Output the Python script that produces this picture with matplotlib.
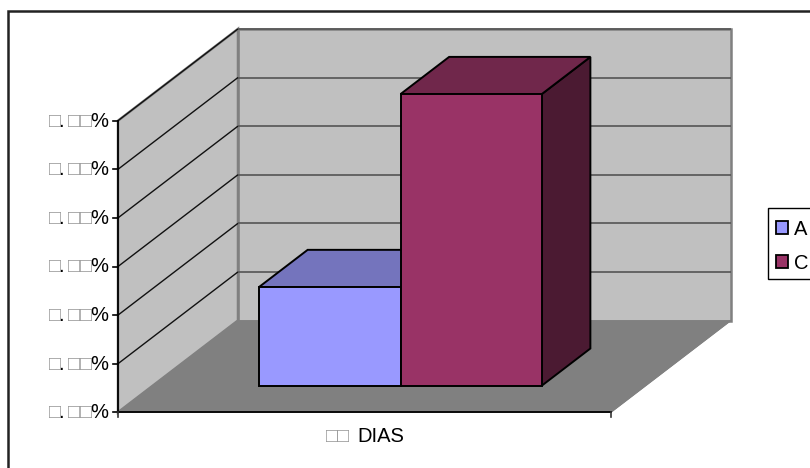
import matplotlib
matplotlib.use("Agg")
import matplotlib.pyplot as plt
from matplotlib.patches import Polygon, Patch, Rectangle

# Data
series_names = ["A", "C"]
series_values = [2.03, 6.0]      # in axis-interval units (tick labels are unreadable boxes)
series_colors = ["#9999FF", "#993366"]
top_colors = ["#7474BD", "#70274B"]
side_colors = ["#4B1A32", "#4B1A32"]
tick_values = [0, 1, 2, 3, 4, 5, 6]
category = "DIAS"

BOX = "\u25A1"
FONT = ["Liberation Sans", "DejaVu Sans"]
plt.rcParams["font.family"] = FONT

fig = plt.figure(figsize=(8.1, 4.68), dpi=100)
ax = fig.add_axes([0, 0, 1, 1])
ax.set_xlim(0, 810)
ax.set_ylim(468, 0)
ax.axis("off")

# Oblique projection of the 3-D chart box
X0, XW = 118.0, 493.0
Y0, UNIT = 412.3, 48.6
DX, DY = 120.0, -91.8


def P(x, v, d):
    """x: 0-1 along category axis, v: value, d: 0-1 depth."""
    return (X0 + x * XW + d * DX, Y0 - v * UNIT + d * DY)


vmax = tick_values[-1]
# walls and floor
ax.add_patch(Polygon([P(0, 0, 1), P(1, 0, 1), P(1, vmax, 1), P(0, vmax, 1)],
                     fc="#C0C0C0", ec="#808080", lw=1.8, zorder=1))
ax.add_patch(Polygon([P(0, 0, 0), P(0, 0, 1), P(0, vmax, 1), P(0, vmax, 0)],
                     fc="#C0C0C0", ec="#808080", lw=1.8, zorder=1))
ax.add_patch(Polygon([P(0, 0, 0), P(1, 0, 0), P(1, 0, 1), P(0, 0, 1)],
                     fc="#808080", ec="#808080", lw=0.5, zorder=2))

# gridlines
for t in tick_values[1:]:
    pts = [P(0, t, 0), P(0, t, 1)]
    ax.plot(*zip(*pts), color="#111111", lw=1.0, zorder=3, solid_capstyle="butt")
    pts = [P(0, t, 1), P(1, t, 1)]
    ax.plot(*zip(*pts), color="#555555", lw=1.2, zorder=3, solid_capstyle="butt")

# axes lines and ticks
ax.plot(*zip(P(0, 0, 0), P(0, vmax, 0)), color="black", lw=1.3, zorder=4)
ax.plot(*zip(P(0, 0, 0), P(1, 0, 0)), color="black", lw=1.3, zorder=4)
for t in tick_values:
    x, y = P(0, t, 0)
    ax.plot([x - 5, x], [y, y], color="black", lw=1.2, zorder=4)
for xv in (0, 1):
    x, y = P(xv, 0, 0)
    ax.plot([x, x], [y, y + 5], color="#333333", lw=1.2, zorder=4)
ax.plot(*zip(P(1, 0, 0), P(1, 0, 1)), color="#808080", lw=0.8, zorder=3)

# bars
D1, D2 = 0.29, 0.695
edges = [0.2155, 0.5025, 0.789]
for i in [0, 1]:
    xa, xb, v = edges[i], edges[i + 1], series_values[i]
    top = [P(xa, v, D1), P(xb, v, D1), P(xb, v, D2), P(xa, v, D2)]
    side = [P(xb, 0, D1), P(xb, 0, D2), P(xb, v, D2), P(xb, v, D1)]
    front = [P(xa, 0, D1), P(xb, 0, D1), P(xb, v, D1), P(xa, v, D1)]
    z = 5 + i
    ax.add_patch(Polygon(side, fc=side_colors[i], ec="black", lw=1.4, zorder=z, joinstyle="miter"))
    ax.add_patch(Polygon(top, fc=top_colors[i], ec="black", lw=1.4, zorder=z, joinstyle="miter"))
    ax.add_patch(Polygon(front, fc=series_colors[i], ec="black", lw=1.4, zorder=z, joinstyle="miter"))

# tick labels: missing-glyph boxes in grey, the rest in black
FS = 14.5
BOXFS = 14.5
for t in tick_values:
    _, y = P(0, t, 0)
    ax.text(108, y + 0.5, "%", ha="right", va="center", fontsize=FS, color="black")
    ax.text(63.5, y + 0.5, ".", ha="right", va="center", fontsize=FS, color="black")
    for bx in (55.2, 74.2, 85.7):
        ax.text(bx, y + 0.5, BOX, ha="center", va="center", fontsize=BOXFS, color="#9A9A9A")

# category label
ax.text(357, 436.5, category, ha="left", va="center", fontsize=FS, color="black")
for bx in (332, 343.5):
    ax.text(bx, 436.5, BOX, ha="center", va="center", fontsize=BOXFS, color="#9A9A9A")

# chart frame (only left and top edges fall inside the image)
ax.plot([8, 8, 810], [468, 10.5, 10.5], color="#222222", lw=1.8, solid_joinstyle="miter", zorder=8)

# legend
ax.add_patch(Rectangle((767.5, 207.5), 60, 71.5, fc="white", ec="black", lw=1.0, zorder=4))
handles = [Patch(fc=c, ec="black", lw=1.3) for c in series_colors]
leg = ax.legend(handles, series_names, loc="upper left",
                bbox_to_anchor=(767.5, 211.5, 70, 64), bbox_transform=ax.transData,
                borderaxespad=0, fontsize=FS, frameon=False,
                handlelength=0.62, handleheight=0.62,
                handletextpad=0.3, labelspacing=0.75, borderpad=0.4)

fig.savefig("out.png", dpi=100)
